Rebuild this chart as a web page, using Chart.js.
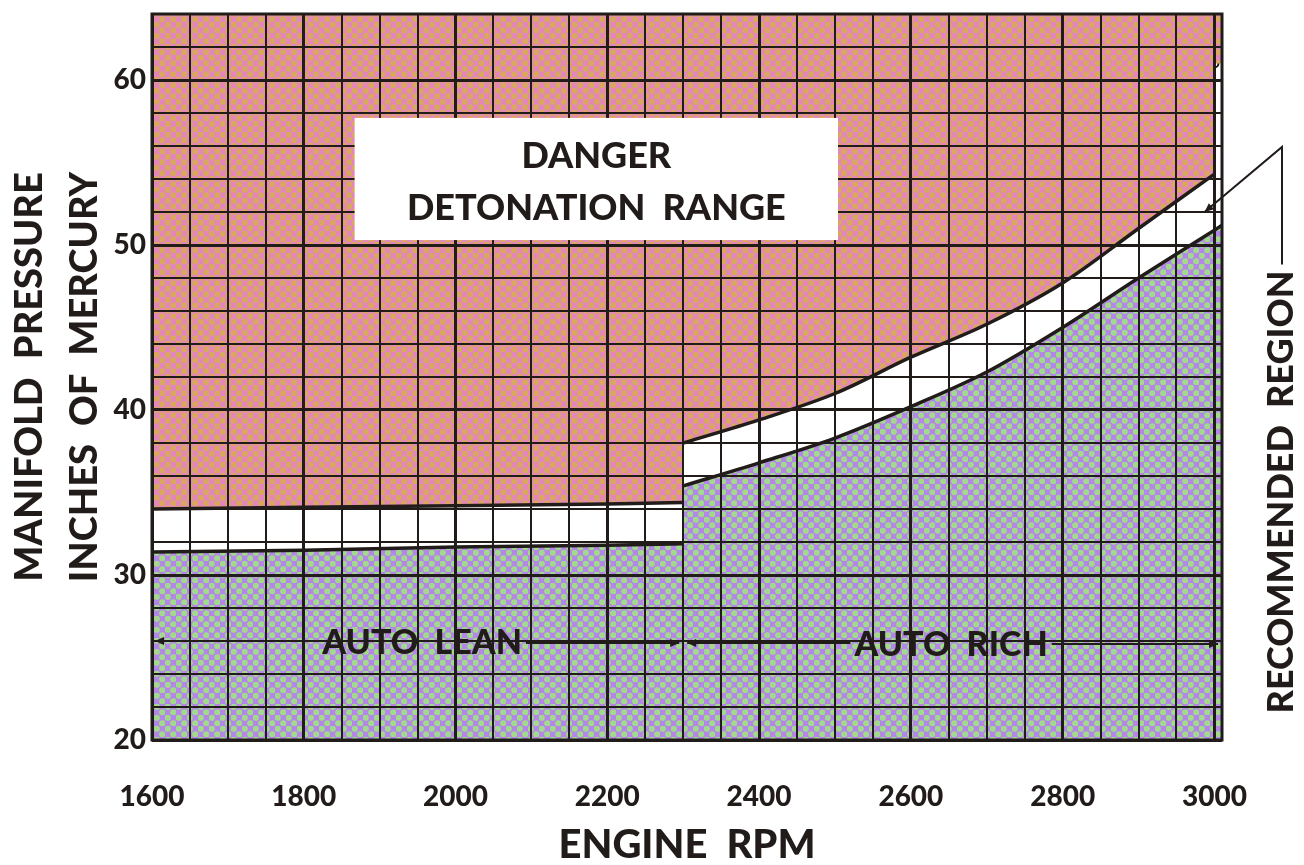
<!DOCTYPE html>
<html>
<head>
<meta charset="utf-8">
<script src="https://cdn.jsdelivr.net/npm/chart.js@4.4.1/dist/chart.umd.min.js"></script>
<style>
    html, body { margin: 0; padding: 0; background: #fff; }
    #wrap { width: 1304px; height: 865px; position: relative; }
</style>
</head>
<body>
<div id="wrap"><canvas id="chart" width="1304" height="865"></canvas></div>
<script>
// Limites das regiões (RPM do motor x pressão de admissão em pol. Hg)
const rpmLean = [1600, 1800, 2000, 2200, 2300];
const dangerLean = [34.0, 34.1, 34.2, 34.3, 34.4];   // limite superior (detonação)
const safeLean = [31.4, 31.5, 31.7, 31.8, 31.9];     // limite inferior

const rpmRich = [2300, 2400, 2500, 2600, 2700, 2800, 2900, 3000];
const dangerRich = [38.0, 39.4, 41.0, 43.2, 45.2, 47.7, 51.0, 54.3];
const rpmRichLow = [2300, 2400, 2500, 2600, 2700, 2800, 2900, 3000, 3010];
const safeRich = [35.4, 36.8, 38.3, 40.2, 42.3, 45.0, 48.0, 50.9, 51.2];

// Degrau de decolagem em 3000 RPM
const takeoffRpm = [3000, 3000];
const takeoffMp = [54.3, 61.0];
const takeoffCapRpm = [3000, 3010];
const takeoffCapMp = [61.0, 61.0];

// Rótulos dos eixos
const rpmLabels = [1600, 1800, 2000, 2200, 2400, 2600, 2800, 3000];
const mpLabels = [20, 30, 40, 50, 60];

const INK = '#211c1a';
const FONT = 'Lato, "Open Sans", sans-serif';
const WEIGHT = '900';

const toPoints = (xs, ys) => xs.map((v, i) => ({ x: v, y: ys[i] }));

// Padrão pontilhado (retícula da impressão)
function dotPattern(base, dot) {
    const c = document.createElement('canvas');
    c.width = 11; c.height = 11;
    const g = c.getContext('2d');
    g.fillStyle = base;
    g.fillRect(0, 0, 11, 11);
    g.fillStyle = dot;
    [[2.75, 2.75], [8.25, 8.25]].forEach(([px, py]) => {
        g.beginPath();
        g.arc(px, py, 3.1, 0, Math.PI * 2);
        g.fill();
    });
    return document.getElementById('chart').getContext('2d').createPattern(c, 'repeat');
}

const dangerFill = dotPattern('#e486bb', '#d8a85f');
const lowFill = dotPattern('#b486e8', '#a2da8b');

function arrowHead(ctx, x, y, dir) {
    ctx.beginPath();
    ctx.moveTo(x, y);
    ctx.lineTo(x - dir * 9, y - 4);
    ctx.lineTo(x - dir * 9, y + 4);
    ctx.closePath();
    ctx.fill();
}

// Textos e setas desenhados por cima do gráfico
const annotations = {
    id: 'annotations',
    afterDraw(chart) {
        const { ctx, chartArea: a, scales: { x, y } } = chart;
        ctx.save();
        ctx.strokeStyle = INK;
        ctx.fillStyle = INK;

        // moldura
        ctx.lineWidth = 3;
        ctx.strokeRect(a.left, a.top, a.right - a.left, a.bottom - a.top);

        // caixa "DANGER"
        const bx1 = x.getPixelForValue(1867), bx2 = x.getPixelForValue(2504);
        const by1 = y.getPixelForValue(57.7), by2 = y.getPixelForValue(50.3);
        ctx.fillStyle = '#ffffff';
        ctx.fillRect(bx1, by1, bx2 - bx1, by2 - by1);
        ctx.fillStyle = INK;
        ctx.font = WEIGHT + ' 36px ' + FONT;
        ctx.textAlign = 'center';
        ctx.textBaseline = 'middle';
        const bcx = (bx1 + bx2) / 2;
        ctx.fillText('DANGER', bcx, by1 + 38);
        ctx.fillText('DETONATION  RANGE', bcx, by1 + 90);

        // AUTO LEAN / AUTO RICH
        ctx.font = WEIGHT + ' 34px ' + FONT;
        const ay = y.getPixelForValue(26);
        const lean = x.getPixelForValue(1956), rich = x.getPixelForValue(2653);
        const split = x.getPixelForValue(2300);
        const wl = ctx.measureText('AUTO  LEAN').width / 2;
        const wr = ctx.measureText('AUTO  RICH').width / 2;
        ctx.fillText('AUTO  LEAN', lean, ay + 2);
        ctx.fillText('AUTO  RICH', rich, ay + 4);
        ctx.lineWidth = 2;
        ctx.beginPath();
        ctx.moveTo(a.left + 3, ay); ctx.lineTo(lean - wl - 4, ay);
        ctx.moveTo(lean + wl + 4, ay + 2); ctx.lineTo(split - 4, ay + 2);
        ctx.moveTo(split + 4, ay + 2); ctx.lineTo(rich - wr - 4, ay + 2);
        ctx.moveTo(rich + wr + 4, ay + 3); ctx.lineTo(a.right - 4, ay + 3);
        ctx.stroke();
        arrowHead(ctx, a.left + 3, ay, -1);
        arrowHead(ctx, split - 4, ay + 2, 1);
        arrowHead(ctx, split + 4, ay + 2, -1);
        arrowHead(ctx, a.right - 4, ay + 3, 1);

        // RECOMMENDED REGION com seta
        ctx.font = WEIGHT + ' 36px ' + FONT;
        const tx = a.right + 59, ty = 492;
        const tw = ctx.measureText('RECOMMENDED  REGION').width;
        ctx.save();
        ctx.translate(tx, ty);
        ctx.rotate(-Math.PI / 2);
        ctx.fillText('RECOMMENDED  REGION', 0, 0);
        ctx.restore();
        const tipX = x.getPixelForValue(2987), tipY = y.getPixelForValue(52.0);
        ctx.lineWidth = 2;
        ctx.beginPath();
        ctx.moveTo(tx + 1, ty - tw / 2 - 6);
        ctx.lineTo(tx + 1, 147);
        ctx.lineTo(tipX, tipY);
        ctx.stroke();
        const ang = Math.atan2(tipY - 147, tipX - tx - 1);
        ctx.translate(tipX, tipY);
        ctx.rotate(ang);
        arrowHead(ctx, 0, 0, 1);
        ctx.restore();
    }
};

const boundary = { borderColor: INK, borderWidth: 3.5, pointRadius: 0 };

new Chart(document.getElementById('chart'), {
    type: 'line',
    data: {
        datasets: [
            { ...boundary, label: 'Detonação (lean)', data: toPoints(rpmLean, dangerLean), fill: 'end', backgroundColor: dangerFill },
            { ...boundary, label: 'Detonação (rich)', data: toPoints(rpmRich, dangerRich), fill: 'end', backgroundColor: dangerFill, cubicInterpolationMode: 'monotone' },
            { ...boundary, label: 'Decolagem', data: toPoints(takeoffCapRpm, takeoffCapMp), fill: 'end', backgroundColor: dangerFill, borderWidth: 0 },
            { ...boundary, label: 'Limite decolagem', data: toPoints(takeoffRpm, takeoffMp), fill: false, borderWidth: 3,
              pointRadius: [0, 4], pointBackgroundColor: '#fff', pointBorderColor: INK, pointBorderWidth: 2 },
            { ...boundary, label: 'Inferior (lean)', data: toPoints(rpmLean, safeLean), fill: 'start', backgroundColor: lowFill },
            { ...boundary, label: 'Inferior (rich)', data: toPoints(rpmRichLow, safeRich), fill: 'start', backgroundColor: lowFill, cubicInterpolationMode: 'monotone' }
        ]
    },
    options: {
        responsive: false,
        animation: false,
        layout: { padding: { top: 14, right: 82, left: 0, bottom: 0 } },
        plugins: {
            legend: { display: false },
            tooltip: { enabled: false }
        },
        scales: {
            x: {
                type: 'linear',
                min: 1600,
                max: 3010,
                afterFit: s => { s.height = 125; },
                grid: {
                    z: 1,
                    color: INK,
                    drawTicks: false,
                    lineWidth: c => (c.tick && c.tick.value % 200 === 0 ? 3 : 2)
                },
                border: { display: false },
                ticks: {
                    stepSize: 50,
                    includeBounds: false,
                    autoSkip: false,
                    maxRotation: 0,
                    padding: 40,
                    color: INK,
                    font: { family: FONT, size: 28, weight: WEIGHT },
                    callback: v => (rpmLabels.includes(v) ? String(v) : '')
                },
                title: {
                    display: true,
                    text: 'ENGINE  RPM',
                    color: INK,
                    padding: 0,
                    font: { family: FONT, size: 40, weight: WEIGHT, lineHeight: 1 }
                }
            },
            y: {
                min: 20,
                max: 64,
                afterFit: s => { s.width = 152; s.paddingTop = 0; s.paddingBottom = 0; },
                grid: {
                    z: 1,
                    color: INK,
                    drawTicks: false,
                    lineWidth: c => (c.tick && c.tick.value % 10 === 0 ? 3 : 2)
                },
                border: { display: false },
                ticks: {
                    stepSize: 2,
                    autoSkip: false,
                    padding: 6,
                    color: INK,
                    font: { family: FONT, size: 28, weight: WEIGHT },
                    callback: v => (mpLabels.includes(v) ? String(v) : '')
                },
                title: {
                    display: true,
                    text: ['MANIFOLD  PRESSURE', 'INCHES  OF  MERCURY'],
                    color: INK,
                    padding: { top: 2, bottom: 0 },
                    font: { family: FONT, size: 38, weight: WEIGHT, lineHeight: 1.45 }
                }
            }
        }
    },
    plugins: [annotations]
});
</script>
</body>
</html>
